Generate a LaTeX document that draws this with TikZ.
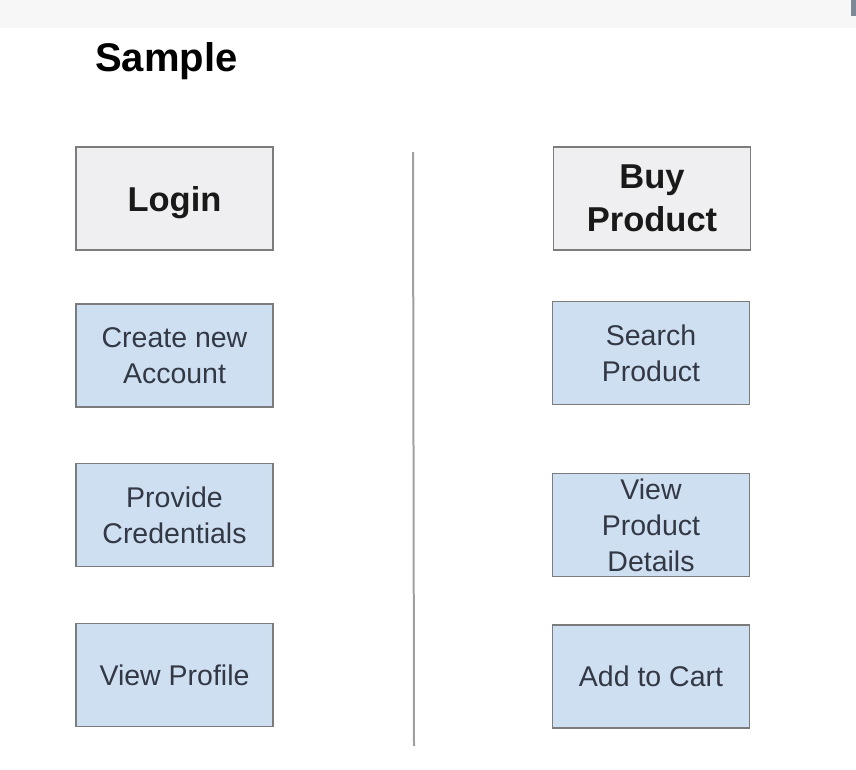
\documentclass[tikz,border=0pt]{standalone}
\usepackage{fontspec}
\setmainfont{Liberation Sans}
\definecolor{boxgray}{HTML}{EFEEF0}
\definecolor{boxblue}{HTML}{CFDFF2}
\definecolor{edgegray}{HTML}{7C7C7C}
\definecolor{txtblue}{HTML}{333845}
\definecolor{bandgray}{HTML}{F7F7F7}
\definecolor{divgray}{HTML}{A0A0A0}
\definecolor{cornerblue}{HTML}{7D8A96}
\begin{document}
\begin{tikzpicture}[x=1pt,y=-1pt,
  headbox/.style={draw=edgegray, line width=1.8pt, fill=boxgray, minimum width=197pt, minimum height=103pt,
    inner sep=0pt, align=center, font=\fontsize{34.5}{43}\selectfont\bfseries, text=black!90},
  stepbox/.style={draw=edgegray, line width=1.8pt, fill=boxblue, minimum width=197pt, minimum height=103pt,
    inner sep=0pt, align=center, font=\fontsize{28.5}{36}\selectfont, text=txtblue}]
\useasboundingbox (0,0) rectangle (856,769);
\fill[white] (0,0) rectangle (856,769);
\fill[bandgray] (0,0) rectangle (856,28);
\fill[cornerblue] (851,0) rectangle (856,16);
\node[anchor=base west, font=\fontsize{40}{46}\selectfont\bfseries, inner sep=0pt] (title) at (95,71) {Sample};
\node[headbox, text depth=0pt, text height=25pt] (login) at (174.5,198.5) {Login};
\node[stepbox] (create) at (174.5,355.5) {Create new\\Account};
\node[stepbox] (cred) at (174.5,515) {Provide\\Credentials};
\node[stepbox] (profile) at (174.5,675) {View Profile};
\node[headbox] (buy) at (652,198.5) {Buy\\Product};
\node[stepbox] (search) at (651,353) {Search\\Product};
\node[stepbox] (details) at (651,525) {View\\Product\\Details};
\node[stepbox] (cart) at (651,676.5) {Add to Cart};
\coordinate (divtop) at (413,152);
\coordinate (divbot) at (414,746);
\draw[divgray, line width=2pt] (divtop) -- (divbot);
\end{tikzpicture}
\end{document}
